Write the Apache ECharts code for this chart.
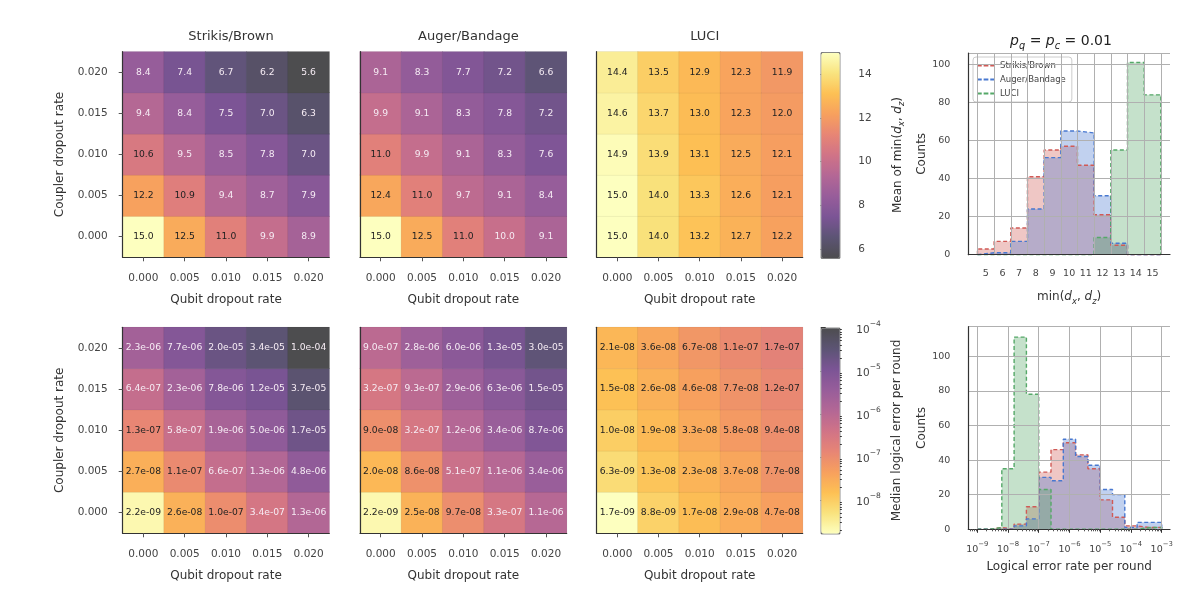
<!DOCTYPE html>
<html>
<head>
<meta charset="utf-8">
<script src="https://cdn.jsdelivr.net/npm/echarts@6/dist/echarts.min.js"></script>
<style>
html, body { margin: 0; padding: 0; background: #fff; }
#main { width: 1200px; height: 612px; }
</style>
</head>
<body>
<div id="main"></div>
<script>
// axes
const qubitRates = ['0.000', '0.005', '0.010', '0.015', '0.020'];
const couplerRates = ['0.000', '0.005', '0.010', '0.015', '0.020'];

// mean of min(dx,dz) - rows: coupler rate 0.000 -> 0.020, cols: qubit rate
const meanStrikis = [
  [15.0, 12.5, 11.0, 9.9, 8.9],
  [12.2, 10.9, 9.4, 8.7, 7.9],
  [10.6, 9.5, 8.5, 7.8, 7.0],
  [9.4, 8.4, 7.5, 7.0, 6.3],
  [8.4, 7.4, 6.7, 6.2, 5.6]
];
const meanAuger = [
  [15.0, 12.5, 11.0, 10.0, 9.1],
  [12.4, 11.0, 9.7, 9.1, 8.4],
  [11.0, 9.9, 9.1, 8.3, 7.6],
  [9.9, 9.1, 8.3, 7.8, 7.2],
  [9.1, 8.3, 7.7, 7.2, 6.6]
];
const meanLuci = [
  [15.0, 14.0, 13.2, 12.7, 12.2],
  [15.0, 14.0, 13.3, 12.6, 12.1],
  [14.9, 13.9, 13.1, 12.5, 12.1],
  [14.6, 13.7, 13.0, 12.3, 12.0],
  [14.4, 13.5, 12.9, 12.3, 11.9]
];

// median logical error per round
const errStrikis = [
  [2.2e-9, 2.6e-8, 1.0e-7, 3.4e-7, 1.3e-6],
  [2.7e-8, 1.1e-7, 6.6e-7, 1.3e-6, 4.8e-6],
  [1.3e-7, 5.8e-7, 1.9e-6, 5.0e-6, 1.7e-5],
  [6.4e-7, 2.3e-6, 7.8e-6, 1.2e-5, 3.7e-5],
  [2.3e-6, 7.7e-6, 2.0e-5, 3.4e-5, 1.0e-4]
];
const errAuger = [
  [2.2e-9, 2.5e-8, 9.7e-8, 3.3e-7, 1.1e-6],
  [2.0e-8, 8.6e-8, 5.1e-7, 1.1e-6, 3.4e-6],
  [9.0e-8, 3.2e-7, 1.2e-6, 3.4e-6, 8.7e-6],
  [3.2e-7, 9.3e-7, 2.9e-6, 6.3e-6, 1.5e-5],
  [9.0e-7, 2.8e-6, 6.0e-6, 1.3e-5, 3.0e-5]
];
const errLuci = [
  [1.7e-9, 8.8e-9, 1.7e-8, 2.9e-8, 4.7e-8],
  [6.3e-9, 1.3e-8, 2.3e-8, 3.7e-8, 7.7e-8],
  [1.0e-8, 1.9e-8, 3.3e-8, 5.8e-8, 9.4e-8],
  [1.5e-8, 2.6e-8, 4.6e-8, 7.7e-8, 1.2e-7],
  [2.1e-8, 3.6e-8, 6.7e-8, 1.1e-7, 1.7e-7]
];

// histogram of min(dx,dz) at pq = pc = 0.01
const distCenters = [5, 6, 7, 8, 9, 10, 11, 12, 13, 14, 15];
const distStrikis = [3, 7, 14, 41, 55, 57, 47, 21, 5, 0, 0];
const distAuger = [1, 1, 7, 24, 51, 65, 64, 31, 6, 0, 0];
const distLuci = [0, 0, 0, 0, 0, 0, 0, 9, 55, 101, 84];

// histogram of logical error rate, bin edges in log10
const errEdges = [-9.0, -8.6, -8.2, -7.8, -7.4, -7.0, -6.6, -6.2, -5.8, -5.4, -5.0, -4.6, -4.2, -3.8, -3.4, -3.0];
const errHistStrikis = [0, 1, 0, 3, 13, 33, 46, 50, 43, 35, 17, 7, 2, 1, 1];
const errHistAuger = [0, 0, 0, 2, 6, 30, 28, 52, 42, 37, 23, 20, 1, 4, 4];
const errHistLuci = [0, 1, 35, 111, 78, 23, 0, 0, 0, 0, 0, 0, 0, 1, 1];

// tick labels
const meanTicks = [6, 8, 10, 12, 14];
const medianTicks = [-8, -7, -6, -5, -4];
const errTicks = [-9, -8, -7, -6, -5, -4, -3];

const FONT = 'DejaVu Sans';
// inferno, drawn at alpha 0.7 on white
const infernoA = ['#4d4d4f', '#5c5474', '#7b5495', '#975d9a', '#b36795', '#d07387',
  '#e78575', '#f7a05e', '#fdc054', '#f9e37e', '#fdffbf'];
const histColors = ['#d05a56', '#4878d0', '#55a868'];

const flat = a => a.reduce((s, r) => s.concat(r), []);
const meanMin = Math.min(...flat(meanStrikis), ...flat(meanAuger), ...flat(meanLuci));
const meanMax = Math.max(...flat(meanStrikis), ...flat(meanAuger), ...flat(meanLuci));
const errMin = Math.log10(Math.min(...flat(errStrikis), ...flat(errAuger), ...flat(errLuci)));
const errMax = Math.log10(Math.max(...flat(errStrikis), ...flat(errAuger), ...flat(errLuci)));

function sci(v) {
  const parts = v.toExponential(1).split('e');
  const n = parseInt(parts[1], 10);
  return parts[0] + 'e' + (n < 0 ? '-' : '+') + String(Math.abs(n)).padStart(2, '0');
}

function heatData(mat, isLog) {
  const out = [];
  const lo = isLog ? errMin : meanMin, hi = isLog ? errMax : meanMax;
  for (let r = 0; r < mat.length; r++) {
    for (let c = 0; c < mat[r].length; c++) {
      const v = mat[r][c];
      const m = isLog ? Math.log10(v) : v;
      // brightness position in the colour map (log panel uses reversed map)
      const t = isLog ? 1 - (m - lo) / (hi - lo) : (m - lo) / (hi - lo);
      const dark = isLog ? t > 0.55 : t > 0.5;
      out.push({ value: [c, r, m, v], label: { color: dark ? '#222' : '#f6ecf4' } });
    }
  }
  return out;
}

const heatGrids = [
  { left: 122.7, top: 51.7, width: 206.6, height: 205.6 },
  { left: 360, top: 51.7, width: 206.7, height: 205.6 },
  { left: 596.7, top: 51.7, width: 206, height: 205.6 },
  { left: 122.7, top: 327.3, width: 206.6, height: 206 },
  { left: 360, top: 327.3, width: 206.7, height: 206 },
  { left: 596.7, top: 327.3, width: 206, height: 206 }
];
const mats = [meanStrikis, meanAuger, meanLuci, errStrikis, errAuger, errLuci];
const panelTitles = ['Strikis/Brown', 'Auger/Bandage', 'LUCI'];

const grids = heatGrids.slice();
grids.push({ left: 820.7, top: 52.3, width: 18.6, height: 205.4 });   // 6 colorbar top
grids.push({ left: 820.7, top: 327.7, width: 18.6, height: 205.6 });  // 7 colorbar bottom
grids.push({ left: 968.3, top: 53, width: 201.7, height: 201.7 });    // 8 hist top
grids.push({ left: 968.3, top: 326.7, width: 201.7, height: 202.6 }); // 9 hist bottom
grids.forEach(g => { g.containLabel = false; g.outerBoundsMode = 'none'; });

const axisName = { fontSize: 12, color: '#333', fontFamily: FONT };
const tickLab = { fontSize: 10.5, color: '#444', fontFamily: FONT };
const spine = { show: true, lineStyle: { color: '#333', width: 1.2 } };

const xAxes = [], yAxes = [], series = [];

for (let i = 0; i < 6; i++) {
  const first = i % 3 === 0;
  xAxes.push({
    gridIndex: i, type: 'category', data: qubitRates, z: 10,
    axisLine: spine,
    axisTick: { show: true, alignWithLabel: true, length: 4, lineStyle: { color: '#555' } },
    axisLabel: Object.assign({ margin: 15 }, tickLab),
    splitLine: { show: false },
    name: 'Qubit dropout rate', nameLocation: 'middle', nameGap: 37, nameTextStyle: axisName
  });
  yAxes.push({
    gridIndex: i, type: 'category', data: couplerRates, z: 10,
    axisLine: spine,
    axisTick: { show: first, alignWithLabel: true, length: 4, lineStyle: { color: '#555' } },
    axisLabel: Object.assign({ show: first, margin: 15 }, tickLab),
    splitLine: { show: false },
    name: first ? 'Coupler dropout rate' : '', nameLocation: 'middle', nameGap: 57, nameRotate: 90,
    nameTextStyle: axisName
  });
  const isLog = i >= 3;
  series.push({
    type: 'heatmap', name: 'heat' + i, xAxisIndex: i, yAxisIndex: i,
    data: heatData(mats[i], isLog),
    itemStyle: { borderColor: 'rgba(0,0,0,0.10)', borderWidth: 0.5 },
    label: {
      show: true, fontSize: 9.2, fontFamily: FONT,
      formatter: p => isLog ? sci(p.value[3]) : p.value[3].toFixed(1)
    },
    emphasis: { disabled: true }, silent: true
  });
}

// colorbar axes
const mathRich = (size, color) => ({
  n: { fontSize: size, color: color, fontFamily: FONT, fontWeight: 'normal', lineHeight: size + 5 },
  i: { fontSize: size, color: color, fontFamily: FONT, fontWeight: 'normal', fontStyle: 'italic', lineHeight: size + 5 },
  s: { fontSize: size * 0.7, color: color, fontFamily: FONT, fontWeight: 'normal', fontStyle: 'italic', verticalAlign: 'bottom' }
});
const powRich = size => ({
  b: { fontSize: size, color: '#444', fontFamily: FONT, lineHeight: size + 5, verticalAlign: 'bottom' },
  e: { fontSize: size * 0.72, color: '#444', fontFamily: FONT, verticalAlign: 'top' }
});
const powLabel = v => '{b|10}{e|\u2212' + Math.abs(v) + '}';

xAxes.push({ gridIndex: 6, type: 'value', show: false, min: 0, max: 1 });
xAxes.push({ gridIndex: 7, type: 'value', show: false, min: 0, max: 1 });
yAxes.push({
  gridIndex: 6, type: 'value', position: 'right', min: meanMin, max: meanMax,
  axisLine: { show: false },
  axisTick: { show: true, length: 5, customValues: meanTicks, lineStyle: { color: '#333' } },
  axisLabel: Object.assign({ margin: 19, customValues: meanTicks }, tickLab),
  splitLine: { show: false },
  name: '{n|Mean of min(}{i|d}{s|x}{n|, }{i|d}{s|z}{n|)}',
  nameLocation: 'middle', nameRotate: 90, nameGap: 50,
  nameTextStyle: { rich: mathRich(12, '#333') }
});
const minorCbar = [];
for (let e = -9; e <= -5; e++) {
  for (let k = 2; k <= 9; k++) {
    const v = e + Math.log10(k);
    if (v > errMin && v < errMax) minorCbar.push(v);
  }
}
yAxes.push({
  gridIndex: 7, type: 'value', position: 'right', min: errMin, max: errMax,
  axisLine: { show: false },
  axisTick: { show: true, length: 5, customValues: medianTicks, lineStyle: { color: '#333' } },
  axisLabel: { margin: 17, customValues: medianTicks, formatter: powLabel, rich: powRich(10.5) },
  splitLine: { show: false },
  name: 'Median logical error per round',
  nameLocation: 'middle', nameRotate: 90, nameGap: 52, nameTextStyle: axisName
});
yAxes.push({
  gridIndex: 7, type: 'value', position: 'right', min: errMin, max: errMax,
  axisLine: { show: false },
  axisTick: { show: true, length: 2.5, customValues: minorCbar, lineStyle: { color: '#333' } },
  axisLabel: { show: false }, splitLine: { show: false }
});

// histogram axes
const distEdges = distCenters.map(c => c - 0.5).concat([distCenters[distCenters.length - 1] + 0.5]);
const gridLine = { show: true, lineStyle: { color: '#b0b0b0', width: 1 } };
const histLab = { fontSize: 9.5, color: '#444', fontFamily: FONT };

xAxes.push({
  gridIndex: 8, type: 'value', min: 3.95, max: 16.05, z: 5,
  axisLine: spine,
  axisTick: { show: false, customValues: distEdges },
  splitLine: gridLine,
  axisLabel: Object.assign({ margin: 14, customValues: distCenters }, histLab),
  name: '{n|min(}{i|d}{s|x}{n|, }{i|d}{s|z}{n|)}', nameLocation: 'middle', nameGap: 34,
  nameTextStyle: { rich: mathRich(12, '#333') }
});
const minorErr = [];
for (let e = -10; e <= -3; e++) {
  for (let k = 2; k <= 9; k++) {
    const v = e + Math.log10(k);
    if (v > -9.29 && v < -2.73) minorErr.push(v);
  }
}
xAxes.push({
  gridIndex: 9, type: 'value', position: 'bottom', min: -9.29, max: -2.73, z: 5,
  axisLine: spine,
  axisTick: { show: true, length: 3.5, customValues: errTicks, lineStyle: { color: '#333' } },
  splitLine: gridLine,
  axisLabel: { margin: 11, customValues: errTicks, formatter: powLabel, rich: powRich(9.5) },
  name: 'Logical error rate per round', nameLocation: 'middle', nameGap: 32, nameTextStyle: axisName
});
xAxes.push({
  gridIndex: 9, type: 'value', position: 'bottom', min: -9.29, max: -2.73, z: 5,
  axisLine: { show: false },
  axisTick: { show: true, length: 2, customValues: minorErr, lineStyle: { color: '#555' } },
  axisLabel: { show: false }, splitLine: { show: false }
});
yAxes.push({
  gridIndex: 8, type: 'value', min: 0, max: 106, interval: 20, z: 5,
  axisLine: spine, axisTick: { show: false }, splitLine: gridLine,
  axisLabel: Object.assign({ margin: 18, showMaxLabel: false }, histLab),
  name: 'Counts', nameLocation: 'middle', nameRotate: 90, nameGap: 30, nameTextStyle: axisName
});
yAxes.push({
  gridIndex: 9, type: 'value', min: 0, max: 117, interval: 20, z: 5,
  axisLine: spine, axisTick: { show: false }, splitLine: gridLine,
  axisLabel: Object.assign({ margin: 18, showMaxLabel: false }, histLab),
  name: 'Counts', nameLocation: 'middle', nameRotate: 90, nameGap: 30, nameTextStyle: axisName
});

function stepPoints(edges, counts) {
  const pts = [[edges[0], 0]];
  for (let i = 0; i < counts.length; i++) {
    pts.push([edges[i], counts[i]]);
    pts.push([edges[i + 1], counts[i]]);
  }
  pts.push([edges[counts.length], 0]);
  return pts;
}

function histSeries(name, color, pts, xi, yi) {
  return {
    type: 'line', name: name, xAxisIndex: xi, yAxisIndex: yi, data: pts,
    symbol: 'none', silent: true, clip: true,
    lineStyle: { color: color, width: 1.4, type: [4, 2.5] },
    itemStyle: { color: color },
    areaStyle: { color: color, opacity: 0.34 }
  };
}

const names = ['Strikis/Brown', 'Auger/Bandage', 'LUCI'];
[distStrikis, distAuger, distLuci].forEach((c, k) => {
  series.push(histSeries(names[k], histColors[k], stepPoints(distEdges, c), 8, 9));
});
[errHistStrikis, errHistAuger, errHistLuci].forEach((c, k) => {
  series.push(histSeries(names[k], histColors[k], stepPoints(errEdges, c), 9, 10));
});

const titles = panelTitles.map((t, k) => ({
  text: t, left: heatGrids[k].left + heatGrids[k].width / 2, top: 25, textAlign: 'center',
  textStyle: { fontSize: 13, fontWeight: 'normal', color: '#333', fontFamily: FONT }
}));
titles.push({
  text: '{i|p}{s|q}{n| = }{i|p}{s|c}{n| = 0.01}', left: 1056, top: 27, textAlign: 'center',
  textStyle: { fontWeight: 'normal', rich: mathRich(14, '#222') }
});

const visual = {
  type: 'continuous', calculable: false, orient: 'vertical', padding: 0,
  itemWidth: 18.6, borderColor: '#444', borderWidth: 1, hoverLink: false, dimension: 2
};
const dashIcon = 'path://M0,0h5v2h-5z M7,0h5v2h-5z M14,0h5v2h-5z';

const option = {
  animation: false,
  backgroundColor: '#fff',
  textStyle: { fontFamily: FONT },
  title: titles,
  grid: grids,
  xAxis: xAxes,
  yAxis: yAxes,
  visualMap: [
    Object.assign({}, visual, { seriesIndex: [0, 1, 2], min: meanMin, max: meanMax, left: 820.7, top: 52.3,
      itemHeight: 205.4, inRange: { color: infernoA } }),
    Object.assign({}, visual, { seriesIndex: [3, 4, 5], min: errMin, max: errMax, left: 820.7, top: 327.7,
      itemHeight: 205.6, inRange: { color: infernoA.slice().reverse() } })
  ],
  legend: {
    data: names.map(n => ({ name: n, icon: dashIcon })),
    orient: 'vertical', left: 973, top: 57,
    itemWidth: 18, itemHeight: 2, itemGap: 5, padding: [4, 6, 4, 4],
    backgroundColor: '#fff', borderColor: '#ccc', borderWidth: 1, borderRadius: 3,
    textStyle: { fontSize: 8.5, color: '#444', fontFamily: FONT },
    selectedMode: false
  },
  series: series
};

const myChart = echarts.init(document.getElementById('main'));
myChart.setOption(option);
</script>
</body>
</html>
